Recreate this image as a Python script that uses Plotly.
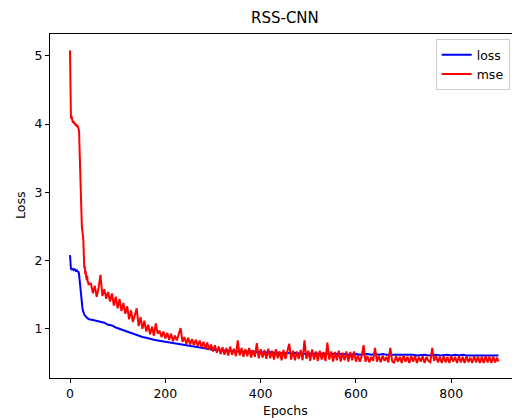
import plotly.graph_objects as go

# ---- data ----
mse_epochs_early = list(range(0, 41))
mse_values_early = [5.08, 4.15, 4.08, 4.12, 4.05, 4.06, 4.02, 4.04, 4.03, 4.00,
                    4.02, 3.99, 3.98, 4.00, 3.97, 3.96, 3.98, 3.95, 3.94, 3.90,
                    3.65, 3.30, 3.08, 2.95, 2.70, 2.49, 2.45, 2.37, 2.30, 2.05,
                    1.89, 1.92, 1.80, 1.85, 1.76, 1.72, 1.78, 1.68, 1.70, 1.64,
                    1.66]
mse_epochs_late = list(range(44, 900, 4)) + [899]
mse_values_late = [
    1.66, 1.52, 1.63, 1.47, 1.60, 1.79, 1.48, 1.58, 1.44, 1.54,
    1.40, 1.52, 1.34, 1.47, 1.30, 1.44, 1.26, 1.38, 1.22, 1.33,
    1.14, 1.27, 1.10, 1.22, 1.30, 1.04, 1.17, 1.00, 1.12, 0.96,
    1.06, 0.92, 1.03, 0.90, 1.08, 0.93, 0.97, 0.88, 0.96, 0.86,
    0.94, 0.84, 0.93, 0.82, 0.90, 0.83, 0.92, 1.01, 0.81, 0.88,
    0.78, 0.87, 0.77, 0.85, 0.76, 0.84, 0.75, 0.83, 0.73, 0.81,
    0.71, 0.80, 0.69, 0.77, 0.67, 0.76, 0.65, 0.74, 0.63, 0.73,
    0.62, 0.72, 0.61, 0.74, 0.62, 0.71, 0.60, 0.83, 0.61, 0.72,
    0.59, 0.70, 0.60, 0.72, 0.58, 0.69, 0.59, 0.79, 0.57, 0.70,
    0.58, 0.69, 0.56, 0.71, 0.57, 0.68, 0.55, 0.70, 0.57, 0.67,
    0.54, 0.69, 0.56, 0.67, 0.78, 0.55, 0.68, 0.54, 0.67, 0.56,
    0.69, 0.54, 0.83, 0.56, 0.68, 0.53, 0.70, 0.55, 0.67, 0.53,
    0.68, 0.55, 0.66, 0.53, 0.80, 0.55, 0.67, 0.52, 0.66, 0.54,
    0.68, 0.52, 0.65, 0.54, 0.67, 0.52, 0.66, 0.54, 0.67, 0.52,
    0.61, 0.52, 0.60, 0.76, 0.52, 0.60, 0.51, 0.59, 0.53, 0.72,
    0.52, 0.60, 0.51, 0.61, 0.53, 0.59, 0.51, 0.72, 0.53, 0.50,
    0.60, 0.52, 0.59, 0.50, 0.61, 0.52, 0.59, 0.50, 0.60, 0.52,
    0.60, 0.50, 0.59, 0.52, 0.60, 0.50, 0.59, 0.53, 0.51, 0.72,
    0.53, 0.60, 0.51, 0.59, 0.50, 0.60, 0.51, 0.59, 0.50, 0.60,
    0.52, 0.59, 0.50, 0.60, 0.51, 0.59, 0.50, 0.60, 0.51, 0.58,
    0.50, 0.60, 0.51, 0.59, 0.50, 0.59, 0.50, 0.60, 0.51, 0.59,
    0.50, 0.59, 0.51, 0.58, 0.52]

loss_epochs_early = [0, 1, 2, 4, 6, 8, 10, 12, 14, 16, 18, 19, 20, 21, 22, 23,
                     24, 25, 26, 27, 28, 30, 32, 34, 36, 38, 40]
loss_values_early = [2.08, 1.90, 1.88, 1.87, 1.88, 1.86, 1.87, 1.85, 1.86, 1.84,
                     1.83, 1.80, 1.72, 1.62, 1.52, 1.45, 1.40, 1.35, 1.31, 1.27,
                     1.24, 1.21, 1.19, 1.17, 1.16, 1.15, 1.14]
loss_epochs_late = list(range(48, 900, 8)) + [899]
loss_values_late = [
    1.13, 1.12, 1.10, 1.09, 1.06, 1.05, 1.02, 1.00, 0.97, 0.95,
    0.93, 0.91, 0.89, 0.88, 0.87, 0.85, 0.84, 0.83, 0.82, 0.81,
    0.80, 0.79, 0.78, 0.77, 0.76, 0.75, 0.74, 0.73, 0.72, 0.71,
    0.70, 0.70, 0.69, 0.69, 0.68, 0.68, 0.68, 0.67, 0.67, 0.67,
    0.66, 0.67, 0.66, 0.66, 0.66, 0.65, 0.66, 0.65, 0.65, 0.65,
    0.64, 0.65, 0.64, 0.65, 0.64, 0.63, 0.64, 0.64, 0.63, 0.64,
    0.63, 0.64, 0.63, 0.63, 0.64, 0.63, 0.63, 0.62, 0.63, 0.63,
    0.62, 0.63, 0.63, 0.62, 0.63, 0.62, 0.63, 0.62, 0.62, 0.63,
    0.62, 0.62, 0.63, 0.62, 0.62, 0.61, 0.62, 0.62, 0.61, 0.62,
    0.62, 0.61, 0.62, 0.62, 0.61, 0.62, 0.61, 0.62, 0.61, 0.61,
    0.62, 0.61, 0.61, 0.62, 0.61, 0.61, 0.62, 0.61]

x_ticks = [0, 200, 400, 600, 800]
y_ticks = [1, 2, 3, 4, 5]
title_text = "RSS-CNN"
x_label = "Epochs"
y_label = "Loss"

mse_x = mse_epochs_early + mse_epochs_late
mse_y = mse_values_early + mse_values_late
loss_x = loss_epochs_early + loss_epochs_late
loss_y = loss_values_early + loss_values_late

FONT = "DejaVu Sans"

fig = go.Figure()
fig.add_trace(go.Scatter(x=loss_x, y=loss_y, mode="lines", name="loss",
                         line=dict(color="#0000ff", width=2)))
fig.add_trace(go.Scatter(x=mse_x, y=mse_y, mode="lines", name="mse",
                         line=dict(color="#ff0000", width=2)))

fig.update_layout(
    width=512, height=418,
    margin=dict(l=50, r=0, t=34, b=40),
    paper_bgcolor="white", plot_bgcolor="white",
    font=dict(family=FONT, size=12.5, color="black"),
    showlegend=True,
    legend=dict(x=0.995, xanchor="right", y=0.985, yanchor="top",
                bgcolor="white", bordercolor="#cccccc", borderwidth=1,
                font=dict(size=12.5), itemwidth=30,
                tracegroupgap=0),
    annotations=[
        dict(text=title_text, xref="paper", yref="paper", x=(285 - 50) / 462,
             y=1 + 16 / 344, xanchor="center", yanchor="middle",
             showarrow=False, font=dict(size=15)),
        dict(text=x_label, xref="paper", yref="paper", x=(285 - 50) / 462,
             y=-32 / 344, xanchor="center", yanchor="middle",
             showarrow=False, font=dict(size=12.5)),
        dict(text=y_label, xref="paper", yref="paper", x=-30 / 462,
             y=0.5, xanchor="center", yanchor="middle", textangle=-90,
             showarrow=False, font=dict(size=12.5)),
    ],
)
fig.update_xaxes(range=[(50 - 70) / 0.4766, (512 - 70) / 0.4766],
                 tickvals=x_ticks, ticks="outside", ticklen=4, tickwidth=1,
                 tickcolor="black", showline=True, linecolor="black",
                 linewidth=1, mirror=True, showgrid=False, zeroline=False)
fig.update_yaxes(range=[0.28, 5.32], tickvals=y_ticks, ticks="outside",
                 ticklen=4, tickwidth=1, tickcolor="black", showline=True,
                 linecolor="black", linewidth=1, mirror=False,
                 showgrid=False, zeroline=False)

fig.write_html("out.html")
